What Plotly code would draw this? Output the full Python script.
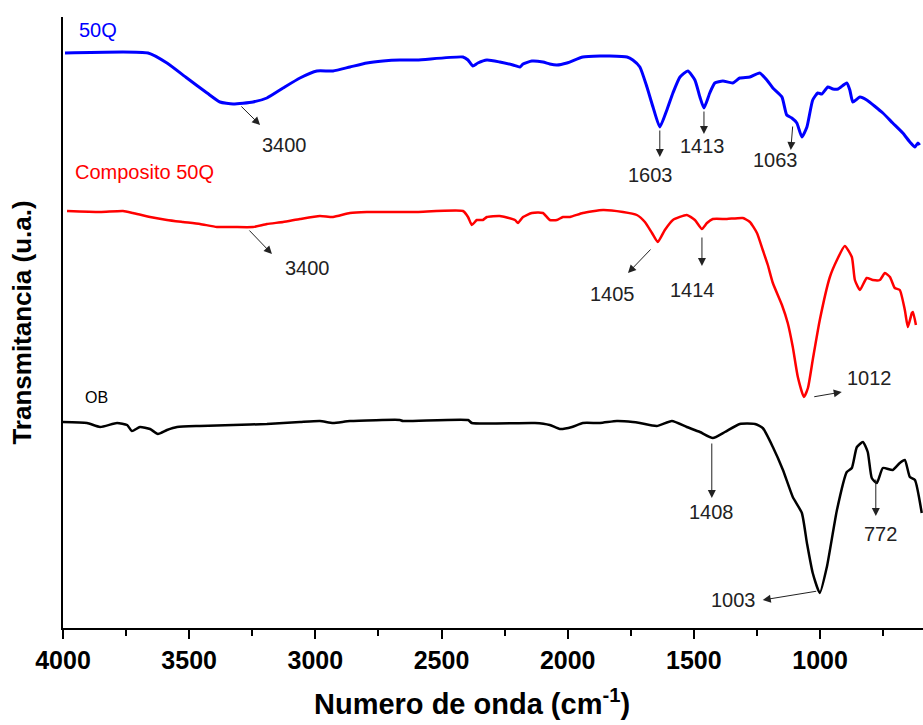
import plotly.graph_objects as go

# ---- data (wavenumber cm-1, transmittance a.u.) ----
wn_50q = [3992, 3663, 3588, 3509, 3429, 3378, 3326, 3247, 3192, 3128, 3061, 2994, 2930, 2863, 2796, 2732,
          2665, 2597, 2415, 2395, 2376, 2356, 2320, 2269, 2217, 2189, 2177, 2142, 2098, 2071, 2043, 2003,
          1940, 1872, 1833, 1765, 1742, 1714, 1686, 1662, 1635, 1607, 1583, 1555, 1524, 1496, 1476, 1460,
          1437, 1417, 1385, 1346, 1318, 1278, 1239, 1211, 1187, 1151, 1132, 1112, 1092, 1072, 1052, 1029,
          1009, 993, 969, 949, 929, 894, 882, 870, 842, 815, 751, 712, 672, 644, 624, 612, 605]
t_50q = [575, 575, 565, 550, 535, 526, 524, 526, 530, 540, 550, 557, 557, 561, 565, 567,
         568, 568, 571, 568, 562, 565, 568, 566, 563, 561, 564, 567, 566, 564, 563, 565,
         571, 572, 572, 571, 568, 561, 541, 521, 501, 518, 535, 551, 557, 548, 531, 520,
         535, 545, 547, 545, 550, 551, 555, 548, 540, 531, 513, 510, 505, 491, 501, 528,
         535, 534, 541, 539, 539, 545, 538, 526, 531, 528, 515, 505, 495, 486, 481, 485, 483]

wn_comp = [3984, 3853, 3762, 3723, 3655, 3588, 3525, 3457, 3390, 3326, 3247, 3192, 3128, 3061, 2982, 2930,
           2863, 2796, 2665, 2597, 2415, 2395, 2380, 2360, 2336, 2320, 2269, 2209, 2197, 2177, 2142, 2098,
           2071, 2043, 2019, 1991, 1940, 1860, 1781, 1726, 1694, 1666, 1643, 1615, 1583, 1528, 1496, 1468,
           1448, 1425, 1369, 1306, 1278, 1250, 1227, 1207, 1187, 1151, 1128, 1108, 1088, 1064, 1048, 1029,
           1001, 961, 933, 902, 874, 862, 842, 815, 791, 763, 743, 723, 704, 684, 664, 652, 636, 632, 620]
t_comp = [417, 416, 417, 415, 411, 408, 406, 404, 401, 401, 401, 404, 406, 409, 412, 411,
          415, 416, 416, 416, 417, 411, 403, 408, 408, 411, 412, 408, 405, 411, 415, 415,
          408, 408, 411, 411, 415, 418, 416, 413, 406, 395, 386, 398, 408, 413, 408, 399,
          405, 409, 409, 410, 406, 395, 378, 363, 345, 323, 305, 281, 251, 231, 240, 268,
          308, 351, 368, 382, 371, 348, 338, 350, 348, 348, 355, 351, 340, 338, 318, 301, 315, 316, 303]

wn_ob = [4000, 3905, 3853, 3786, 3746, 3727, 3695, 3655, 3624, 3588, 3548, 3457, 3326, 3192, 3061, 2982,
         2930, 2863, 2665, 2653, 2395, 2380, 2130, 2071, 2031, 1983, 1940, 1872, 1805, 1742, 1714, 1647,
         1587, 1528, 1476, 1425, 1377, 1318, 1258, 1227, 1187, 1147, 1108, 1072, 1052, 1029, 1001, 973,
         933, 894, 874, 854, 830, 811, 795, 775, 751, 712, 684, 664, 644, 624, 597]
t_ob = [206, 205, 201, 205, 203, 197, 201, 199, 194, 198, 201, 202, 203, 204, 206, 207,
        205, 207, 208, 207, 208, 205, 205, 203, 199, 201, 205, 205, 207, 206, 205, 202,
        207, 201, 196, 190, 196, 204, 204, 200, 181, 158, 131, 115, 85, 55, 35, 61,
        118, 156, 160, 181, 186, 176, 150, 145, 160, 158, 165, 168, 151, 148, 115]

series_names = ["50Q", "Composito 50Q", "OB"]
series_colors = ["#0000ff", "#ff0000", "#000000"]

# peak annotations: (label, head_wn, head_t, tail_wn, tail_t, text_wn, text_t)
peaks = [
    ("3400", 3219, 503, 3299, 523, 3124, 483),
    ("1603", 1635, 471, 1635, 499, 1670, 453),
    ("1413", 1460, 494, 1460, 518, 1464, 482),
    ("1063", 1116, 478, 1108, 503, 1175, 468),
    ("3400", 3172, 374, 3267, 399, 3033, 360),
    ("1405", 1761, 355, 1666, 380, 1821, 334),
    ("1414", 1468, 362, 1468, 392, 1504, 338),
    ("1012", 914, 236, 1029, 231, 803, 250),
    ("1408", 1429, 130, 1429, 186, 1429, 116),
    ("772", 779, 112, 779, 150, 759, 94),
    ("1003", 1227, 28, 1009, 37, 1342, 28),
]

# series label positions (wn, t)
label_pos = [(3945, 598), (3960, 456), (3921, 231)]
label_sizes = [20, 20, 16]

x_ticks = [4000, 3500, 3000, 2500, 2000, 1500, 1000]
x_title = "Numero de onda (cm<sup>-1</sup>)"
y_title = "Transmitancia (u.a.)"

FONT = "Arial, Liberation Sans, sans-serif"

fig = go.Figure()
for wn, t, name, col, w in [(wn_50q, t_50q, series_names[0], series_colors[0], 3),
                            (wn_comp, t_comp, series_names[1], series_colors[1], 2.5),
                            (wn_ob, t_ob, series_names[2], series_colors[2], 2.5)]:
    fig.add_trace(go.Scatter(x=wn, y=t, mode="lines", name=name,
                             line=dict(color=col, width=w, shape="spline", smoothing=0.5),
                             showlegend=False))

anns = []
for lab, hx, hy, tx, ty, lx, ly in peaks:
    anns.append(dict(x=hx, y=hy, ax=tx, ay=ty, xref="x", yref="y", axref="x", ayref="y",
                     text="", showarrow=True, arrowhead=2, arrowsize=1.6, arrowwidth=1,
                     arrowcolor="#222222"))
    anns.append(dict(x=lx, y=ly, xref="x", yref="y", text=lab, showarrow=False,
                     font=dict(family=FONT, size=20, color="#222222")))
for (px, py), name, col, sz in zip(label_pos, series_names, series_colors, label_sizes):
    anns.append(dict(x=px, y=py, xref="x", yref="y", text=name, showarrow=False,
                     xanchor="left", font=dict(family=FONT, size=sz, color=col)))
# x-axis title (placed slightly left of plot centre, as in the reference)
anns.append(dict(x=0.4756, y=-0.121, xref="paper", yref="paper", text=x_title,
                 showarrow=False, xanchor="center", yanchor="middle", borderpad=0,
                 font=dict(family=FONT, size=29, weight="bold", color="black")))

fig.update_layout(
    width=923, height=725,
    margin=dict(l=63, r=0, t=17, b=97),
    paper_bgcolor="white", plot_bgcolor="white",
    font=dict(family=FONT, color="black"),
    annotations=anns,
    xaxis=dict(range=[4000, 592], tickvals=x_ticks, ticktext=[str(v) for v in x_ticks],
               ticks="outside", ticklen=9, tickwidth=2, tickcolor="black",
               showline=True, linecolor="black", linewidth=2, showgrid=False, zeroline=False,
               tickfont=dict(family=FONT, size=25, weight="bold"),
               minor=dict(tickvals=[3750, 3250, 2750, 2250, 1750, 1250, 750], ticks="outside",
                          ticklen=6, tickwidth=2, tickcolor="black", showgrid=False)),
    yaxis=dict(range=[0, 611], showticklabels=False, ticks="", showgrid=False, zeroline=False,
               showline=True, linecolor="black", linewidth=2,
               title=dict(text=y_title, standoff=22,
                          font=dict(family=FONT, size=26, weight="bold"))),
)

fig.write_html("out.html")
